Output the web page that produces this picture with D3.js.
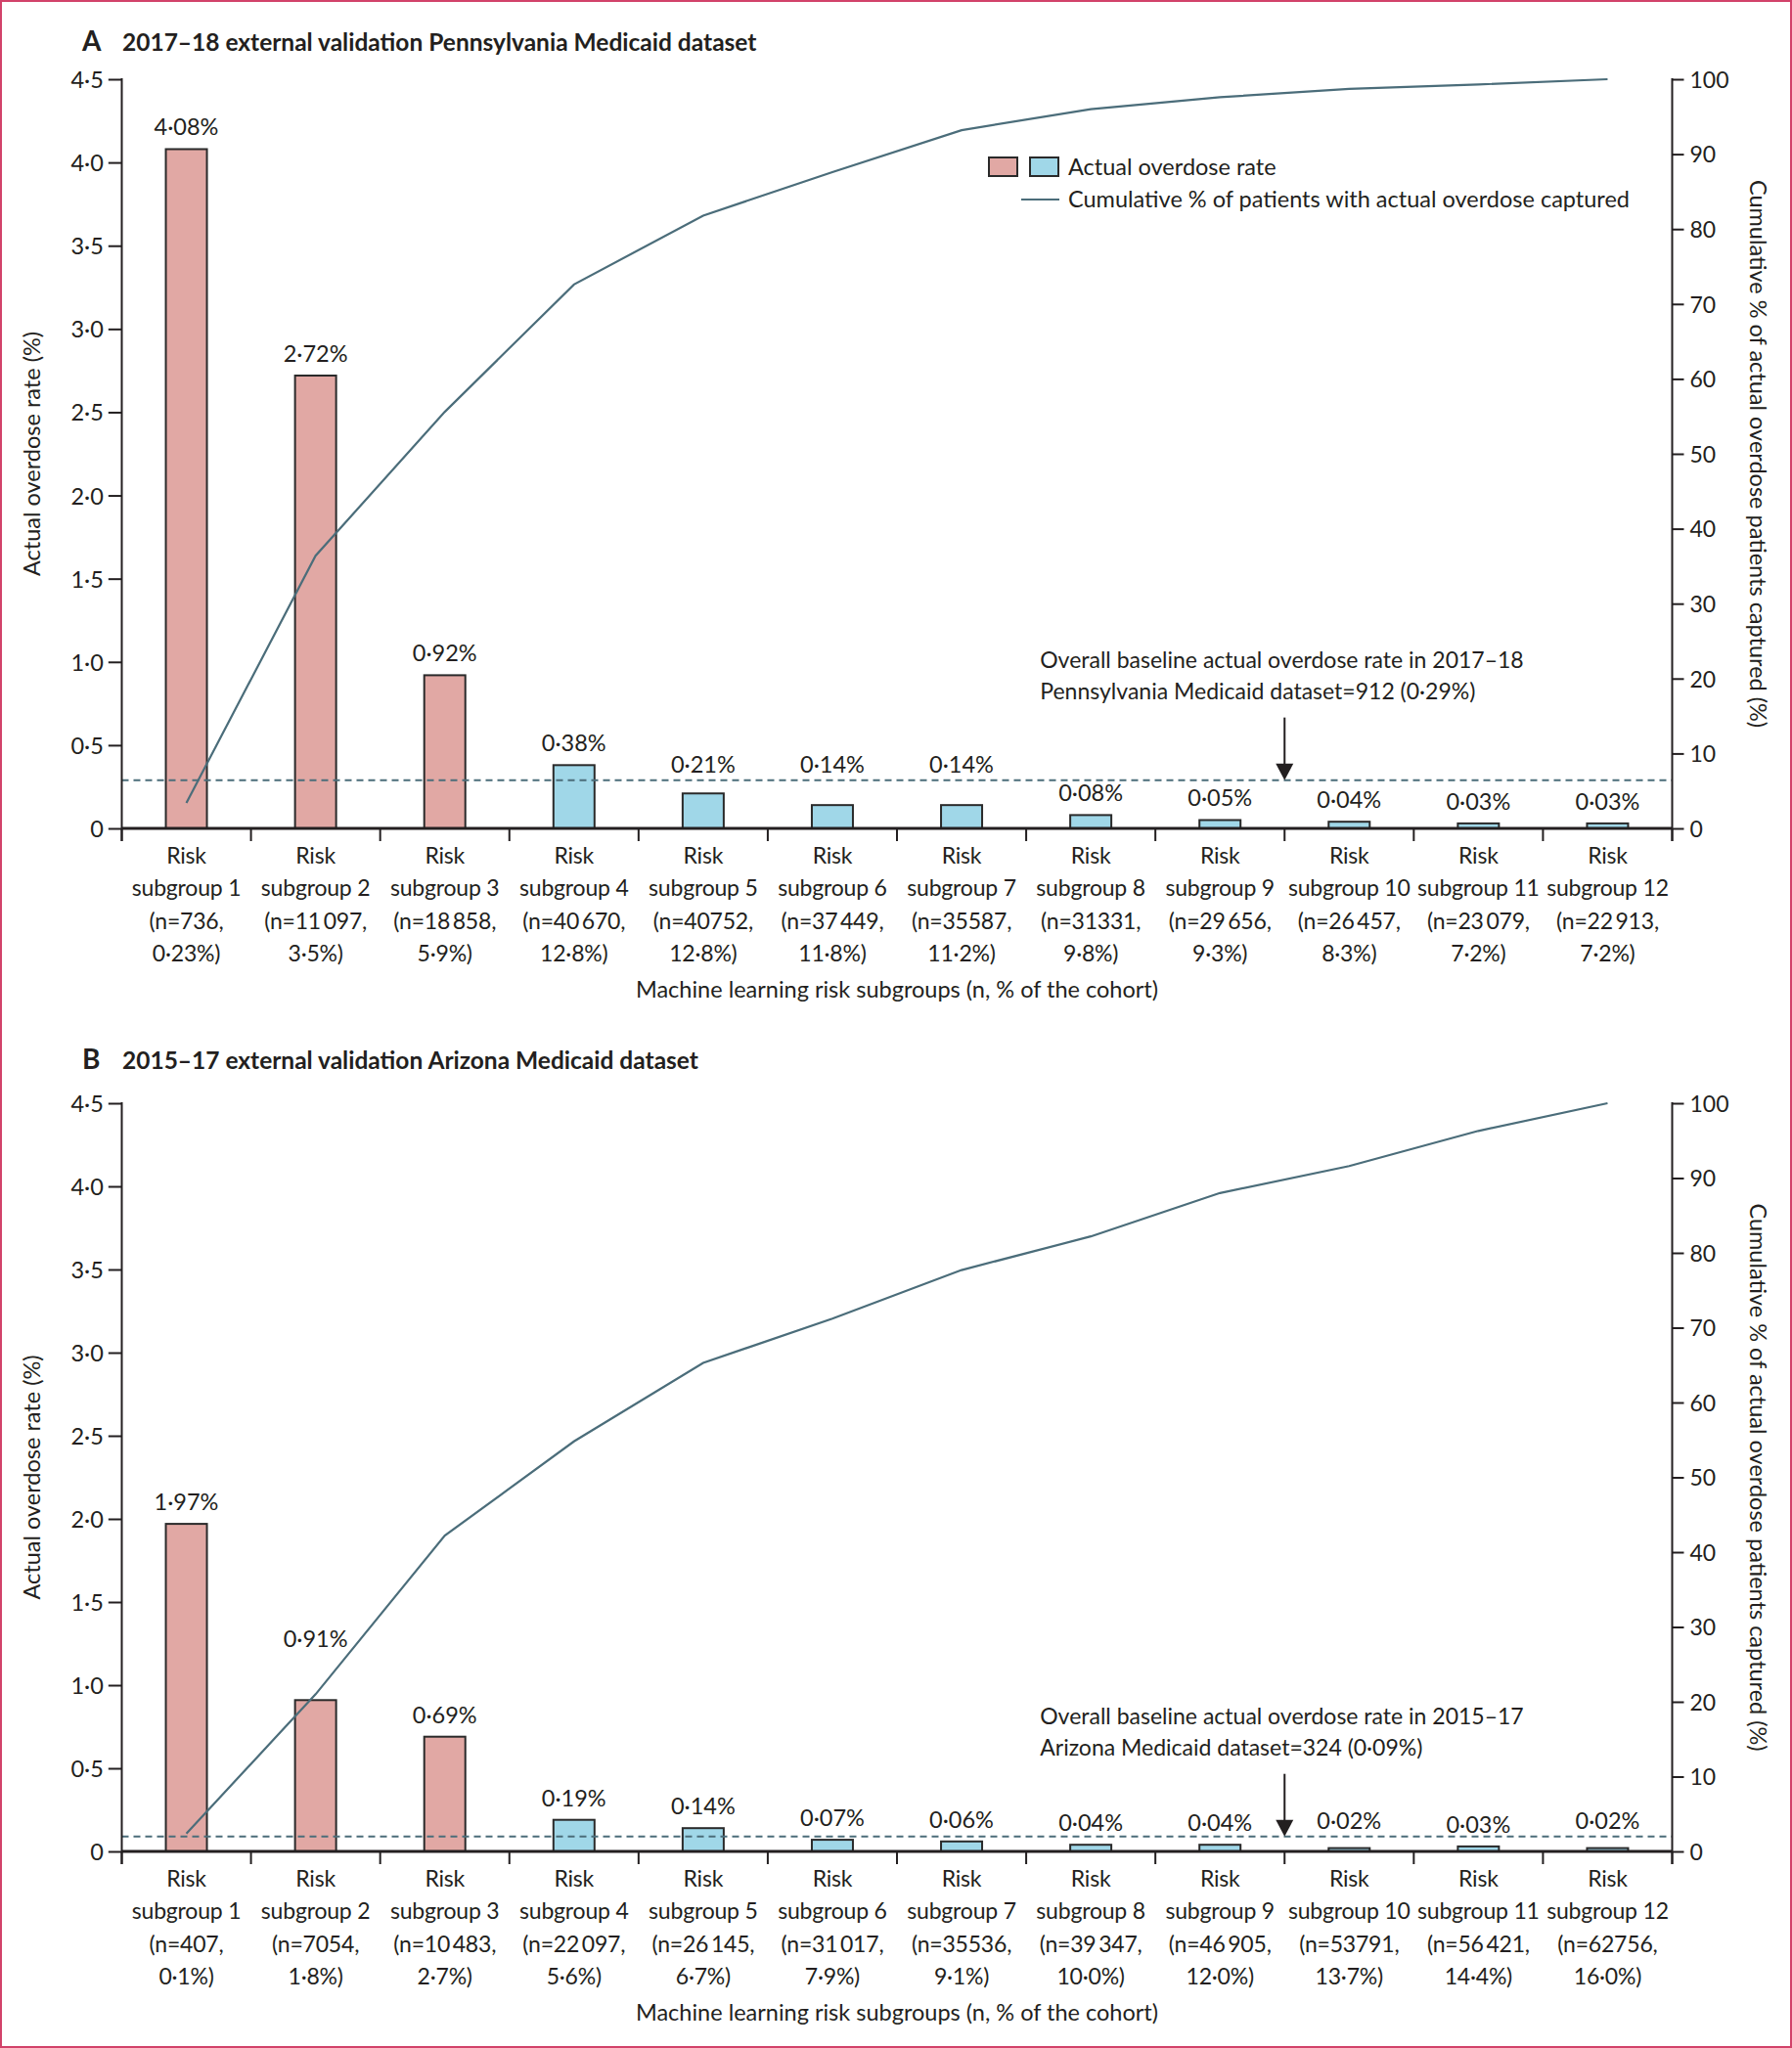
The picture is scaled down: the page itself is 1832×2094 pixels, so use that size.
<!DOCTYPE html>
<html><head><meta charset="utf-8">
<script src="https://cdn.jsdelivr.net/npm/d3@7"></script>
<style>
body{margin:0;background:#fff;}
svg text{font-family:Lato,"Open Sans",sans-serif;fill:#231f20;}
</style></head><body><svg id="c" width="1832" height="2094"></svg>
<script>
// ---------- data ----------
const categories = ["1","2","3","4","5","6","7","8","9","10","11","12"];
const leftTicks = [0,0.5,1,1.5,2,2.5,3,3.5,4,4.5];
const rightTicks = [0,10,20,30,40,50,60,70,80,90,100];

const ratesA = [4.08,2.72,0.92,0.38,0.21,0.14,0.14,0.08,0.05,0.04,0.03,0.03];
const cumulativeA = [3.4,36.4,55.6,72.6,81.8,87.6,93.2,96.0,97.6,98.7,99.3,100];
const nLabelsA = ["736","11\u2009097","18\u2009858","40\u2009670","40752","37\u2009449","35587","31331","29\u2009656","26\u2009457","23\u2009079","22\u2009913"];
const cohortLabelsA = ["0·23","3·5","5·9","12·8","12·8","11·8","11·2","9·8","9·3","8·3","7·2","7·2"];
const baselineRateA = 0.29;

const ratesB = [1.97,0.91,0.69,0.19,0.14,0.07,0.06,0.04,0.04,0.02,0.03,0.02];
const cumulativeB = [2.4,21.0,42.2,54.8,65.3,71.2,77.7,82.2,88.0,91.6,96.3,100];
const nLabelsB = ["407","7054","10\u2009483","22\u2009097","26\u2009145","31\u2009017","35536","39\u2009347","46\u2009905","53791","56\u2009421","62756"];
const cohortLabelsB = ["0·1","1·8","2·7","5·6","6·7","7·9","9·1","10·0","12·0","13·7","14·4","16·0"];
const baselineRateB = 0.09;

const highRiskCount = 3;

// ---------- styles ----------
const PINK = "#e1a8a4", BLUE = "#a0d7e8", LINE = "#4b6d7a", INK = "#231f20";
const W = 1832, H = 2094;
const svg = d3.select("#c");
svg.append("rect").attr("x",1).attr("y",1).attr("width",W-2).attr("height",H-2)
  .attr("fill","#fff").attr("stroke","#d2426a").attr("stroke-width",2);

const dot = s => s.replace(".", "·");
const fmtTick = d => d === 0 ? "0" : dot(d3.format(".1f")(d));
const fmtRate = d => dot(d3.format(".2f")(d)) + "%";

const x = d3.scaleBand().domain(categories).range([124.5, 1709.5]);
const barW = x.bandwidth() * 0.318;
const cx = c => x(c) + x.bandwidth() / 2;
const FS = 23.5;

function panel(cfg) {
  const y = d3.scaleLinear().domain([0, 4.5]).range([cfg.bottom, cfg.top]);
  const yR = d3.scaleLinear().domain([0, 100]).range([cfg.bottom, cfg.top]);
  const g = svg.append("g");
  const [x0, x1] = x.range();
  const y0 = y(0);

  // title
  g.append("text").attr("x", 84).attr("y", cfg.titleY).attr("font-weight", "bold").attr("font-size", 28).text(cfg.letter);
  g.append("text").attr("x", 125).attr("y", cfg.titleY).attr("font-weight", "bold").attr("font-size", 24.5).text(cfg.title);

  // bars
  g.selectAll("rect.bar").data(cfg.rates).join("rect")
    .attr("x", (d, i) => cx(categories[i]) - barW / 2)
    .attr("y", d => y(d))
    .attr("width", barW)
    .attr("height", d => y0 - y(d))
    .attr("fill", (d, i) => i < highRiskCount ? PINK : BLUE)
    .attr("stroke", "#2a2a2a").attr("stroke-width", 2);

  // dashed baseline
  const yDash = y(cfg.baseline);
  g.append("line").attr("x1", x0).attr("x2", x1).attr("y1", yDash).attr("y2", yDash)
    .attr("stroke", LINE).attr("stroke-width", 2).attr("stroke-dasharray", "7,5");

  // cumulative line
  const pts = cfg.cumulative.map((v, i) => [cx(categories[i]), yR(v)]);
  g.append("path").attr("d", d3.line()(pts)).attr("fill", "none")
    .attr("stroke", LINE).attr("stroke-width", 2.2);

  function lineRange(xa, xb) {
    const ys = [];
    const interp = px => {
      for (let k = 0; k < pts.length - 1; k++) {
        const [ax, ay] = pts[k], [bx, by] = pts[k + 1];
        if (px >= ax && px <= bx) return ay + (by - ay) * (px - ax) / (bx - ax);
      }
      return null;
    };
    [xa, xb].forEach(p => { const v = interp(p); if (v !== null) ys.push(v); });
    pts.forEach(p => { if (p[0] >= xa && p[0] <= xb) ys.push(p[1]); });
    return ys.length ? [d3.min(ys), d3.max(ys)] : null;
  }

  // value labels
  cfg.rates.forEach((v, i) => {
    const c = cx(categories[i]);
    let b = y(v) - 14;
    const lr = lineRange(c - 25, c + 25);
    if (lr && lr[1] >= b - 18 && lr[0] <= b + 4) b = lr[0] - 18;
    if (yDash >= b - 18 && yDash <= b + 3) b = yDash - 8;
    g.append("text").attr("x", c).attr("y", b).attr("text-anchor", "middle")
      .attr("font-size", FS).text(fmtRate(v));
  });

  // left axis
  const la = g.append("g").attr("transform", `translate(${x0},0)`)
    .call(d3.axisLeft(y).tickValues(leftTicks).tickFormat(fmtTick).tickSize(13.7).tickSizeOuter(0).tickPadding(5));
  la.select(".domain").remove();
  la.selectAll("line").attr("stroke", INK).attr("stroke-width", 2);
  la.selectAll("text").attr("font-size", FS).attr("font-family", "Lato").attr("fill", INK).attr("dy", "0.36em");
  g.append("line").attr("x1", x0).attr("x2", x0).attr("y1", cfg.top - 1).attr("y2", y0 + 13)
    .attr("stroke", INK).attr("stroke-width", 2);

  // right axis
  const ra = g.append("g").attr("transform", `translate(${x1},0)`)
    .call(d3.axisRight(yR).tickValues(rightTicks).tickSize(12).tickSizeOuter(0).tickPadding(6));
  ra.select(".domain").remove();
  ra.selectAll("line").attr("stroke", INK).attr("stroke-width", 2);
  ra.selectAll("text").attr("font-size", 23).attr("font-family", "Open Sans").attr("fill", INK).attr("dy", "0.36em");
  g.append("line").attr("x1", x1).attr("x2", x1).attr("y1", cfg.top - 1).attr("y2", y0 + 13)
    .attr("stroke", INK).attr("stroke-width", 2);

  // x axis
  g.append("line").attr("x1", x0).attr("x2", x1).attr("y1", y0).attr("y2", y0)
    .attr("stroke", INK).attr("stroke-width", 2.8);
  const bounds = categories.map(c => x(c)).concat([x1]);
  g.selectAll("line.xt").data(bounds).join("line")
    .attr("x1", d => d).attr("x2", d => d).attr("y1", y0).attr("y2", y0 + 13)
    .attr("stroke", INK).attr("stroke-width", 2);
  categories.forEach((c, i) => {
    const t = g.append("text").attr("text-anchor", "middle").attr("font-size", 23).attr("letter-spacing", -0.2);
    const lines = ["Risk", `subgroup ${c}`, `(n=${cfg.nLabels[i]},`, `${cfg.cohort[i]}%)`];
    const offs = [36, 69, 103, 136];
    lines.forEach((s, k) => t.append("tspan").attr("x", cx(c)).attr("y", y0 + offs[k]).text(s));
  });
  g.append("text").attr("x", (x0 + x1) / 2).attr("y", y0 + 173).attr("text-anchor", "middle")
    .attr("font-size", FS).text("Machine learning risk subgroups (n, % of the cohort)");

  // axis titles
  const mid = (cfg.top + cfg.bottom) / 2;
  g.append("text").attr("transform", `translate(41,${mid}) rotate(-90)`).attr("text-anchor", "middle")
    .attr("font-size", FS).text("Actual overdose rate (%)");
  g.append("text").attr("transform", `translate(1789,${mid}) rotate(90)`).attr("text-anchor", "middle")
    .attr("font-family", "Open Sans").attr("font-size", 23.5).text("Cumulative % of actual overdose patients captured (%)");

  // annotation + arrow
  const ax = x(categories[9]);
  g.append("text").attr("x", ax - 250).attr("y", yDash - 115).attr("font-size", 23).text(cfg.note[0]);
  g.append("text").attr("x", ax - 250).attr("y", yDash - 83).attr("font-size", 23).text(cfg.note[1]);
  g.append("line").attr("x1", ax).attr("x2", ax).attr("y1", yDash - 64).attr("y2", yDash - 14)
    .attr("stroke", INK).attr("stroke-width", 2);
  g.append("path").attr("d", `M${ax - 9},${yDash - 17}L${ax + 9},${yDash - 17}L${ax},${yDash}Z`).attr("fill", INK);
}

panel({
  letter: "A", title: "2017–18 external validation Pennsylvania Medicaid dataset", titleY: 52,
  top: 81, bottom: 847, rates: ratesA, cumulative: cumulativeA, nLabels: nLabelsA, cohort: cohortLabelsA,
  baseline: baselineRateA,
  note: ["Overall baseline actual overdose rate in 2017–18", "Pennsylvania Medicaid dataset=912 (0·29%)"]
});
panel({
  letter: "B", title: "2015–17 external validation Arizona Medicaid dataset", titleY: 1093,
  top: 1128, bottom: 1893, rates: ratesB, cumulative: cumulativeB, nLabels: nLabelsB, cohort: cohortLabelsB,
  baseline: baselineRateB,
  note: ["Overall baseline actual overdose rate in 2015–17", "Arizona Medicaid dataset=324 (0·09%)"]
});

// legend (panel A)
const lg = svg.append("g");
lg.append("rect").attr("x", 1011).attr("y", 161).attr("width", 29).attr("height", 19).attr("fill", PINK).attr("stroke", "#2a2a2a").attr("stroke-width", 2);
lg.append("rect").attr("x", 1053).attr("y", 161).attr("width", 29).attr("height", 19).attr("fill", BLUE).attr("stroke", "#2a2a2a").attr("stroke-width", 2);
lg.append("text").attr("x", 1092).attr("y", 179).attr("font-size", FS).text("Actual overdose rate");
lg.append("line").attr("x1", 1044).attr("x2", 1083).attr("y1", 204).attr("y2", 204).attr("stroke", LINE).attr("stroke-width", 2.2);
lg.append("text").attr("x", 1092).attr("y", 212).attr("font-size", FS).text("Cumulative % of patients with actual overdose captured");
</script></body></html>
